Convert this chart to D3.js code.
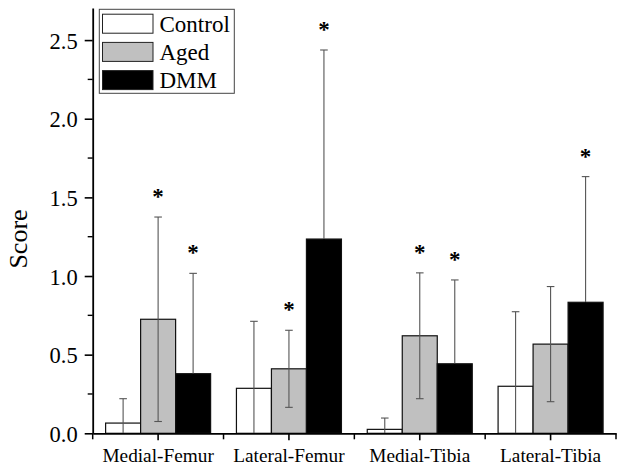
<!DOCTYPE html>
<html><head><meta charset="utf-8">
<script src="https://cdn.jsdelivr.net/npm/d3@7"></script>
<style>body{margin:0;background:#fff}text{font-family:"Liberation Serif","Times New Roman",serif;fill:#000}</style>
</head><body>
<svg id="c" width="624" height="471"></svg>
<script>
const categories = ["Medial-Femur", "Lateral-Femur", "Medial-Tibia", "Lateral-Tibia"];
const seriesNames = ["Control", "Aged", "DMM"];
const controlValues = [0.065, 0.286, 0.025, 0.299];
const controlSD = [0.155, 0.426, 0.072, 0.474];
const agedValues = [0.725, 0.41, 0.62, 0.567];
const agedSD = [0.65, 0.245, 0.40, 0.366];
const dmmValues = [0.379, 1.235, 0.442, 0.833];
const dmmSD = [0.638, 1.202, 0.533, 0.799];
const controlStars = [false, false, false, false];
const agedStars = [true, true, true, false];
const dmmStars = [true, true, true, true];
const yTicks = [0, 0.5, 1.0, 1.5, 2.0, 2.5];
const yMinorTicks = [0.25, 0.75, 1.25, 1.75, 2.25];
const fills = ["#ffffff", "#c0c0c0", "#000000"];

(function () {
const svg = d3.select("#c");
const mLeft = 92.7, mRight = 616, mBottom = 433.3, mTop = 8;
const x = d3.scaleBand().domain(categories).range([mLeft, mRight]).padding(0);
const groupW = 105;
const x1 = d3.scaleBand().domain(seriesNames).range([-groupW/2, groupW/2]).padding(0);
const y = d3.scaleLinear().domain([0, 2.704]).range([mBottom, mTop]);

const series = [
  {name: "Control", values: controlValues, sd: controlSD, stars: controlStars, fill: fills[0], lower: "#555"},
  {name: "Aged", values: agedValues, sd: agedSD, stars: agedStars, fill: fills[1], lower: "#555"},
  {name: "DMM", values: dmmValues, sd: dmmSD, stars: dmmStars, fill: fills[2], lower: "#000"}
];
const recs = [];
series.forEach(s => categories.forEach((c, i) => recs.push({s, c, v: s.values[i], sd: s.sd[i], star: s.stars[i]})));

// bars
svg.append("g").selectAll("rect").data(recs).join("rect")
  .attr("x", d => x(d.c) + x.bandwidth()/2 + x1(d.s.name))
  .attr("width", x1.bandwidth())
  .attr("y", d => y(d.v))
  .attr("height", d => y(0) - y(d.v))
  .attr("fill", d => d.s.fill)
  .attr("stroke", "#111").attr("stroke-width", 1.2);

// error bars
const eb = svg.append("g");
recs.forEach(d => {
  const cx = x(d.c) + x.bandwidth()/2 + x1(d.s.name) + x1.bandwidth()/2;
  const hi = d.v + d.sd, lo = Math.max(0, d.v - d.sd);
  eb.append("line").attr("x1", cx).attr("x2", cx).attr("y1", y(d.v)).attr("y2", y(hi))
    .attr("stroke", "#555").attr("stroke-width", 1.1);
  eb.append("line").attr("x1", cx - 3.8).attr("x2", cx + 3.8).attr("y1", y(hi)).attr("y2", y(hi))
    .attr("stroke", "#555").attr("stroke-width", 1.1);
  eb.append("line").attr("x1", cx).attr("x2", cx).attr("y1", y(d.v)).attr("y2", y(lo))
    .attr("stroke", d.s.lower).attr("stroke-width", 1.1);
  if (d.v - d.sd > 0) {
    eb.append("line").attr("x1", cx - 3.8).attr("x2", cx + 3.8).attr("y1", y(lo)).attr("y2", y(lo))
      .attr("stroke", d.s.lower).attr("stroke-width", 1.1);
  }
  if (d.star) {
    eb.append("text").attr("x", cx).attr("y", y(hi) - 24 + 11).attr("text-anchor", "middle")
      .attr("font-size", 23).attr("font-weight", "bold").text("*");
  }
});

// y axis
const yAxis = svg.append("g").attr("transform", `translate(${mLeft},0)`)
  .call(d3.axisLeft(y).tickValues(yTicks).tickFormat(d3.format(".1f")).tickSizeInner(8).tickSizeOuter(0));
yAxis.select(".domain").attr("stroke", "#000").attr("stroke-width", 1.8);
yAxis.selectAll(".tick line").attr("stroke-width", 1.6);
yAxis.selectAll(".tick text").attr("font-size", 22.5).attr("x", -15).attr("dy", null).attr("y", 8)
  .style("font-family", '"Liberation Serif", serif');
svg.append("g").selectAll("line").data(yMinorTicks).join("line")
  .attr("x1", mLeft - 5).attr("x2", mLeft).attr("y1", d => y(d)).attr("y2", d => y(d))
  .attr("stroke", "#000").attr("stroke-width", 1.4);

// x axis
const xAxis = svg.append("g").attr("transform", `translate(0,${mBottom})`)
  .call(d3.axisBottom(x).tickSizeInner(7).tickSizeOuter(0));
xAxis.select(".domain").attr("stroke", "#000").attr("stroke-width", 1.8);
xAxis.selectAll(".tick line").attr("stroke-width", 1.6);
xAxis.selectAll(".tick text").attr("font-size", 19.3).attr("dy", null).attr("y", 28.5)
  .style("font-family", '"Liberation Serif", serif');
const bounds = categories.map(c => x(c)).concat([mRight]);
svg.append("g").selectAll("line").data(bounds).join("line")
  .attr("x1", d => d).attr("x2", d => d).attr("y1", mBottom).attr("y2", mBottom + 6)
  .attr("stroke", "#000").attr("stroke-width", 1.5);

// y label
svg.append("text").attr("transform", "translate(27,239) rotate(-90)").attr("text-anchor", "middle")
  .attr("font-size", 26).text("Score");

// legend
const lg = svg.append("g");
lg.append("rect").attr("x", 99.3).attr("y", 9.3).attr("width", 135).attr("height", 84)
  .attr("fill", "#fff").attr("stroke", "#444").attr("stroke-width", 1);
seriesNames.forEach((n, i) => {
  lg.append("rect").attr("x", 102.5).attr("y", 14.2 + i * 28.2).attr("width", 50.5).attr("height", 19)
    .attr("fill", fills[i]).attr("stroke", "#222").attr("stroke-width", 1);
  lg.append("text").attr("x", 159.5).attr("y", 31.5 + i * 28).attr("font-size", 23).text(n);
});
})();
</script>
</body></html>
